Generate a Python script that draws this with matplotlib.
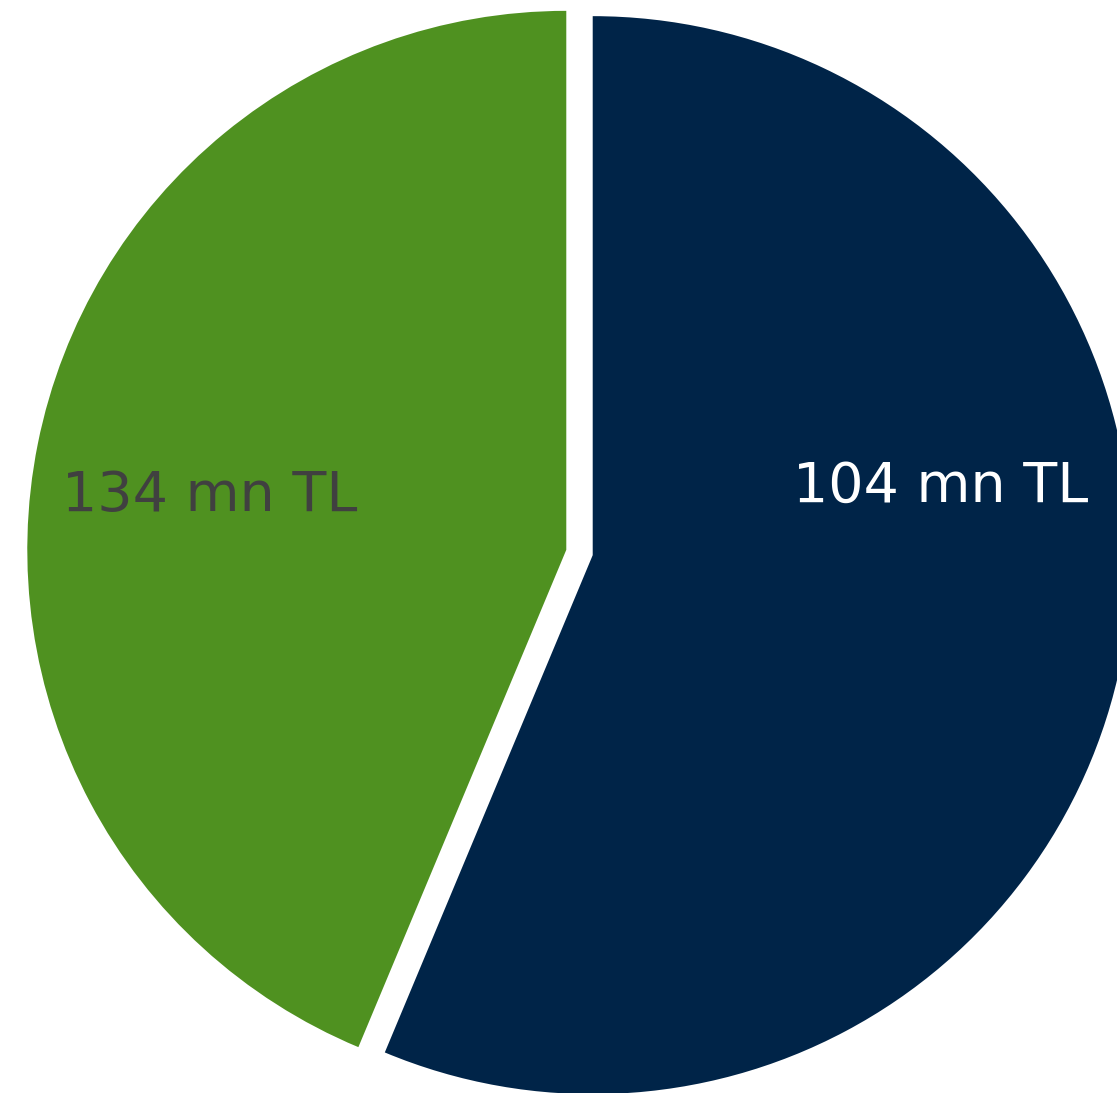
import matplotlib.pyplot as plt

# slice sizes (clockwise from 12 o'clock) and the text shown on each slice
segments = ['navy', 'green']
values = [134, 104]
labels = ['104 mn TL', '134 mn TL']
colors = ['#002448', '#4F9120']
text_colors = ['#FFFFFF', '#404040']

W, H = 1117, 1093
cx, cy, R = 579.5, 552.5, 539.0  # pie centre / radius in pixels

fig = plt.figure(figsize=(W / 100, H / 100), dpi=100)
ax = fig.add_axes([0, 0, 1, 1])

wedges, _ = ax.pie(values, colors=colors, startangle=90, counterclock=False,
                   explode=[0.025, 0.025], radius=1.0,
                   wedgeprops=dict(linewidth=0))

# label positions: centre x and baseline y (reference pixels -> pie units)
label_px = [(941, 502), (210, 511)]
for (px, py), txt, tc in zip(label_px, labels, text_colors):
    ax.text((px - cx) / R, (cy - py) / R, txt, color=tc, fontsize=40,
            ha='center', va='baseline', family='DejaVu Sans')

ax.set_xlim(-cx / R, (W - cx) / R)
ax.set_ylim(-(H - cy) / R, cy / R)
ax.set_aspect('equal')
ax.axis('off')

fig.savefig('out.png', dpi=100)
